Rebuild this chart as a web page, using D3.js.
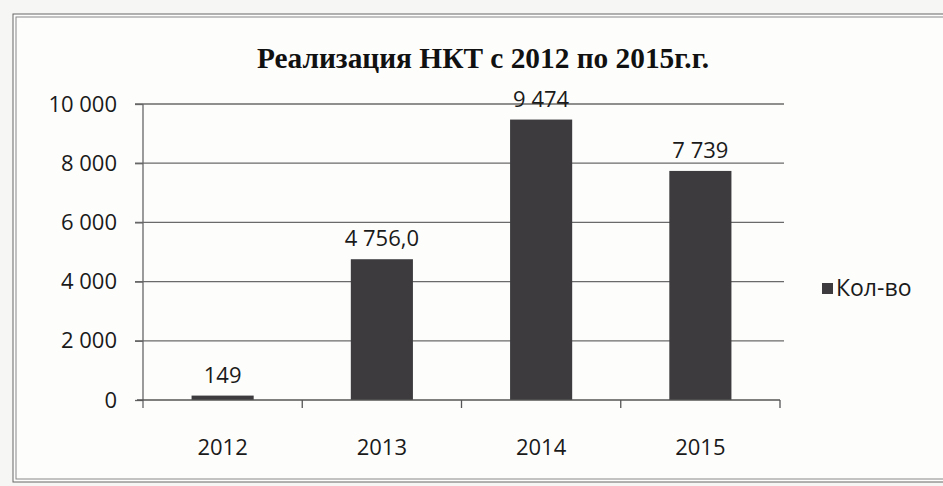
<!DOCTYPE html>
<html>
<head>
<meta charset="utf-8">
<script src="https://cdn.jsdelivr.net/npm/d3@7"></script>
<style>
  body { margin: 0; background: #f6f6f4; }
  svg { display: block; }
</style>
</head>
<body>
<svg id="chart" width="943" height="486"></svg>
<script>
// data
var years = ["2012", "2013", "2014", "2015"];
var counts = [149, 4756, 9474, 7739];
var countLabels = ["149", "4 756,0", "9 474", "7 739"];
var yTicks = [0, 2000, 4000, 6000, 8000, 10000];
var seriesName = "Кол-во";
var title = "Реализация НКТ с 2012 по 2015г.г.";

var svg = d3.select("#chart");
var font = "'Open Sans', sans-serif";

// frame of the chart (double line, like the scan)
svg.append("rect")
    .attr("x", 13).attr("y", 14)
    .attr("width", 960).attr("height", 468)
    .attr("fill", "#fdfdfc")
    .attr("stroke", "#666").attr("stroke-width", 1);
svg.append("rect")
    .attr("x", 16).attr("y", 17)
    .attr("width", 960).attr("height", 462)
    .attr("fill", "none")
    .attr("stroke", "#888").attr("stroke-width", 1);

var margin = { left: 143, right: 163, top: 104, bottom: 86 };
var width = 943 - margin.left - margin.right,
    height = 486 - margin.top - margin.bottom;

var g = svg.append("g")
    .attr("transform", "translate(" + margin.left + "," + margin.top + ")");

var x = d3.scaleBand().domain(years).range([0, width]).paddingInner(0.61).paddingOuter(0.305);
var y = d3.scaleLinear().domain([0, 10000]).range([height, 0]);

// gridlines
g.selectAll("line.grid")
    .data(yTicks.slice(1))
    .enter().append("line")
    .attr("class", "grid")
    .attr("x1", -8).attr("x2", width + 4)
    .attr("y1", function(d) { return y(d); })
    .attr("y2", function(d) { return y(d); })
    .attr("stroke", "#6a6a6a").attr("stroke-width", 1.3);

// y axis
var yAxis = g.append("g")
    .call(d3.axisLeft(y).tickValues(yTicks).tickSize(8).tickPadding(18)
        .tickFormat(function(d) { return d3.format(",")(d).replace(/,/g, " "); }));
yAxis.select(".domain").attr("d", "M0,0V" + (height + 8)).attr("stroke", "#666").attr("stroke-width", 1.3);
yAxis.selectAll(".tick line").attr("stroke", "#666").attr("stroke-width", 1.3);
yAxis.selectAll("text")
    .attr("font-family", font)
    .attr("font-size", 22).attr("fill", "#1a1a1a");

// bars
g.selectAll("rect.bar")
    .data(counts)
    .enter().append("rect")
    .attr("class", "bar")
    .attr("x", function(d, i) { return x(years[i]); })
    .attr("y", function(d) { return y(d); })
    .attr("width", x.bandwidth())
    .attr("height", function(d) { return height - y(d); })
    .attr("fill", "#3d3b3e");

// value labels
g.selectAll("text.val")
    .data(counts)
    .enter().append("text")
    .attr("class", "val")
    .attr("x", function(d, i) { return x(years[i]) + x.bandwidth() / 2; })
    .attr("y", function(d) { return y(d) - 13; })
    .attr("text-anchor", "middle")
    .attr("font-family", font)
    .attr("font-size", 22).attr("fill", "#1a1a1a")
    .text(function(d, i) { return countLabels[i]; });

// x axis with ticks between categories
var xg = g.append("g").attr("transform", "translate(0," + height + ")");
xg.append("line")
    .attr("x1", -6).attr("x2", width)
    .attr("y1", 0).attr("y2", 0)
    .attr("stroke", "#555").attr("stroke-width", 1.5);
xg.selectAll("line.sep")
    .data(years)
    .enter().append("line")
    .attr("class", "sep")
    .attr("x1", function(d) { return x(d) + x.bandwidth() + x.step() * x.paddingInner() / 2; })
    .attr("x2", function(d) { return x(d) + x.bandwidth() + x.step() * x.paddingInner() / 2; })
    .attr("y1", 0).attr("y2", 8)
    .attr("stroke", "#555").attr("stroke-width", 1.3);
xg.selectAll("text")
    .data(years)
    .enter().append("text")
    .attr("x", function(d) { return x(d) + x.bandwidth() / 2; })
    .attr("y", 55)
    .attr("text-anchor", "middle")
    .attr("font-family", font)
    .attr("font-size", 22).attr("fill", "#1a1a1a")
    .text(function(d) { return d; });

// title
svg.append("text")
    .attr("x", 483).attr("y", 68)
    .attr("text-anchor", "middle")
    .attr("font-family", "'Liberation Serif', 'Times New Roman', serif")
    .attr("font-weight", "bold")
    .attr("font-size", 29).attr("fill", "#111")
    .attr("textLength", 452).attr("lengthAdjust", "spacingAndGlyphs")
    .text(title);

// legend
var lg = svg.append("g").attr("transform", "translate(822,283)");
lg.append("rect").attr("width", 11).attr("height", 11).attr("fill", "#3d3b3e");
lg.append("text")
    .attr("x", 14).attr("y", 13)
    .attr("font-family", font)
    .attr("font-size", 23).attr("fill", "#1a1a1a")
    .text(seriesName);
</script>
</body>
</html>
